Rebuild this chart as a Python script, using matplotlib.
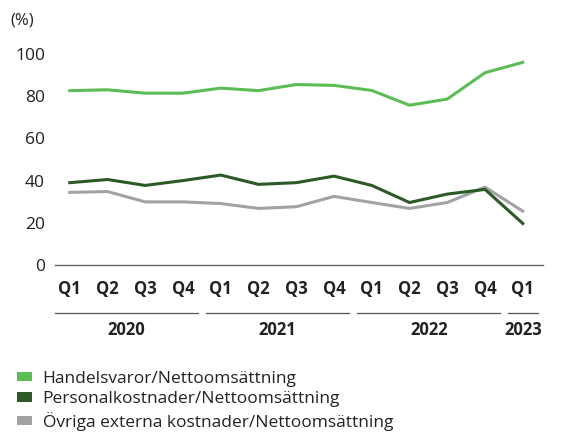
import matplotlib
matplotlib.use("Agg")
import matplotlib.pyplot as plt
from matplotlib.patches import Patch
import matplotlib.transforms as mtransforms

plt.rcParams['font.family'] = ['Open Sans', 'DejaVu Sans']

quarters = ['Q1', 'Q2', 'Q3', 'Q4', 'Q1', 'Q2', 'Q3', 'Q4', 'Q1', 'Q2', 'Q3', 'Q4', 'Q1']
years = ['2020', '2021', '2022', '2023']
year_counts = [4, 4, 4, 1]

handelsvaror = [82.6, 83.0, 81.4, 81.4, 83.8, 82.6, 85.5, 85.1, 82.7, 75.7, 78.6, 91.1, 96.0]
personal = [39.0, 40.5, 37.7, 40.0, 42.6, 38.2, 39.0, 42.1, 37.7, 29.6, 33.6, 35.8, 19.7]
ovriga = [34.4, 34.8, 29.9, 29.9, 29.1, 26.8, 27.6, 32.5, 29.6, 26.8, 29.6, 36.9, 25.5]

labels = ['Handelsvaror/Nettoomsättning', 'Personalkostnader/Nettoomsättning',
          'Övriga externa kostnader/Nettoomsättning']
colors = ['#5cbd55', '#2b5a27', '#a2a2a5']

fig = plt.figure(figsize=(5.83, 4.32), dpi=100)
ax = fig.add_axes([0.094, 0.3866, 0.837, 0.513])

x = list(range(len(quarters)))
for vals, c in zip([handelsvaror, personal, ovriga][::-1], colors[::-1]):
    ax.plot(x, vals, color=c, lw=2.2, solid_joinstyle='round')

ax.set_xlim(-0.395, 12.53)
ax.set_ylim(0, 105)
ax.set_yticks([0, 20, 40, 60, 80, 100])
ax.set_xticks(x)
ax.set_xticklabels(quarters, fontweight='bold', fontsize=12, color='#222222')
ax.tick_params(axis='x', length=0, pad=11)
ax.tick_params(axis='y', length=0, pad=7, labelsize=12.5, labelcolor='#222222')
for s in ['top', 'right', 'left']:
    ax.spines[s].set_visible(False)
ax.spines['bottom'].set_color('#666666')
ax.spines['bottom'].set_linewidth(1.0)

ax.text(-0.092, 1.105, '(%)', transform=ax.transAxes, fontsize=12, color='#222222',
        ha='left', va='center')

# year grouping below the quarter labels
trans = mtransforms.blended_transform_factory(ax.transData, ax.transAxes)
start = 0
for yr, n in zip(years, year_counts):
    x0 = start - 0.38
    x1 = start + n - 1 + 0.4
    ax.plot([x0, x1], [-0.2166, -0.2166], transform=trans, color='#555555',
            lw=0.9, clip_on=False)
    ax.text((x0 + x1) / 2, -0.293, yr, transform=trans, ha='center', va='center',
            fontsize=12, fontweight='bold', color='#222222')
    start += n

handles = [Patch(facecolor=c, edgecolor='none') for c in colors]
fig.legend(handles, labels, loc='upper left', bbox_to_anchor=(0.018, 1 - 364 / 432),
           frameon=False, fontsize=12.5, handlelength=0.85, handleheight=0.45,
           handletextpad=0.6, labelspacing=0.25, borderaxespad=0, labelcolor='#222222')

fig.savefig('out.png', dpi=100)
